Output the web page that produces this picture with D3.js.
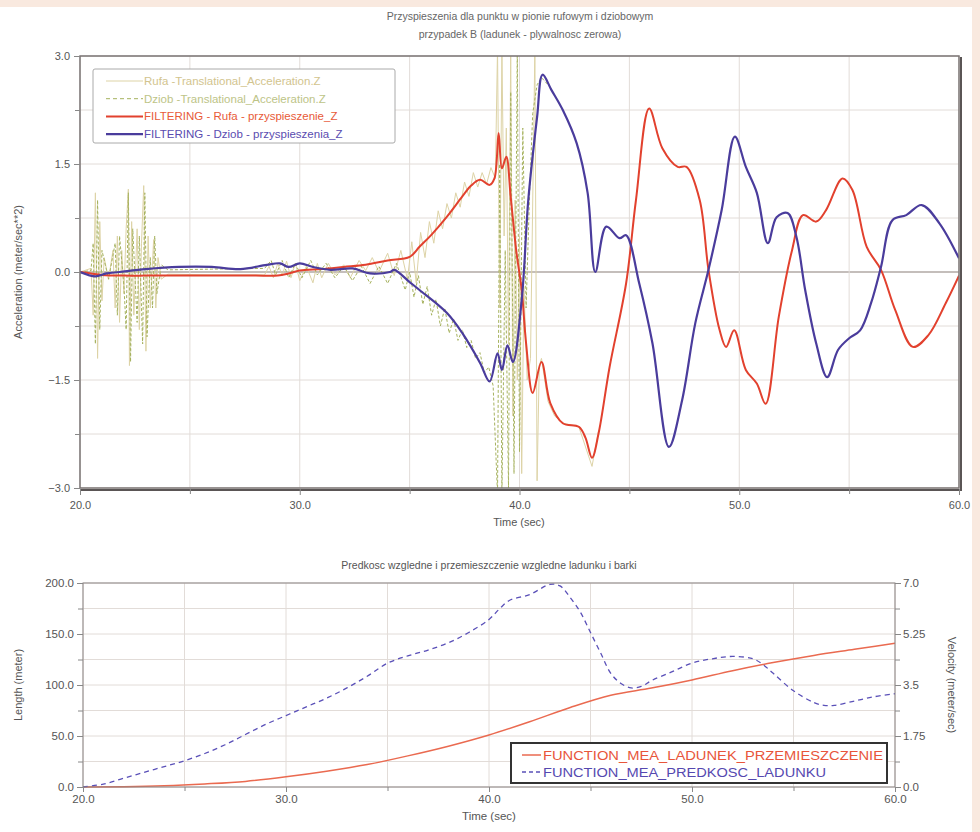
<!DOCTYPE html>
<html>
<head>
<meta charset="utf-8">
<script src="https://cdn.jsdelivr.net/npm/d3@7"></script>
<style>
  body { margin: 0; background: #fff; }
  text { font-family: "Liberation Sans", Arial, sans-serif; }
</style>
</head>
<body>
<svg id="chart"></svg>
<script>
// ---- top chart data (time in sec, acceleration in m/s^2) ----
const rufaFiltered = [
  [20,0],[20.5,-0.02],[21,-0.04],[22,-0.05],[23,-0.05],[24,-0.05],[25,-0.05],[26,-0.05],[27,-0.05],[28,-0.05],
  [29,-0.05],[29.5,-0.02],[30,0.02],[31,0.04],[32,0.07],[33,0.1],[34,0.16],[35,0.21],[35.45,0.35],[36,0.52],
  [36.7,0.77],[37.4,1.05],[37.8,1.2],[38.2,1.28],[38.64,1.21],[38.86,1.3],[39.05,1.93],[39.2,1.44],[39.4,1.6],
  [39.6,1.04],[39.85,0.3],[40.1,-0.25],[40.3,-0.99],[40.6,-1.68],[41.0,-1.25],[41.4,-1.82],[41.97,-2.1],
  [42.7,-2.15],[43.0,-2.3],[43.3,-2.58],[43.6,-2.24],[44.1,-1.32],[44.85,-0.16],[45.3,1.0],[45.9,2.27],
  [46.5,1.72],[47.2,1.46],[47.6,1.46],[48.2,1.0],[48.6,0.03],[49.1,-0.8],[49.4,-1.04],[49.77,-0.81],
  [50.3,-1.36],[50.8,-1.55],[51.2,-1.83],[51.8,-0.62],[52.4,0.3],[52.9,0.79],[53.5,0.7],[53.95,0.86],
  [54.7,1.3],[55.15,1.14],[55.8,0.35],[56.45,0.03],[57.1,-0.53],[57.9,-1.04],[58.6,-0.88],[59.4,-0.43],[60,-0.05]
];
const dziobFiltered = [
  [20,0],[20.7,-0.06],[21.2,-0.02],[21.8,0],[23,0.04],[24.5,0.07],[26,0.07],[27.3,0.04],[28.5,0.1],[29.1,0.12],
  [29.5,0.07],[30,0.12],[30.6,0.07],[31.4,0.03],[32.4,0.05],[33.2,-0.02],[34.1,0.0],[34.3,0.03],[35,-0.14],
  [35.45,-0.25],[36.7,-0.57],[37.4,-0.85],[38.2,-1.26],[38.64,-1.52],[39.0,-1.13],[39.2,-1.36],[39.45,-1.02],
  [39.7,-1.25],[40.1,-0.39],[40.4,1.0],[40.8,2.15],[41.05,2.74],[41.45,2.53],[41.97,2.25],[42.6,1.79],
  [43.1,1.1],[43.45,0.0],[43.95,0.63],[44.55,0.47],[44.85,0.51],[45.45,-0.16],[46.05,-0.99],[46.8,-2.43],
  [47.4,-1.78],[48.0,-0.71],[48.6,0.03],[49.2,0.86],[49.8,1.88],[50.3,1.46],[50.8,1.1],[51.3,0.4],[51.7,0.76],
  [52.2,0.82],[52.6,0.49],[53.0,-0.25],[53.5,-0.99],[54.0,-1.46],[54.5,-1.08],[55.0,-0.92],[55.5,-0.81],
  [56.0,-0.43],[56.45,0.07],[56.97,0.72],[57.6,0.79],[58.3,0.93],[59.1,0.68],[60,0.19]
];
const rufaRaw = [
  [20,0],[20.5,0.05],[20.6,-0.6],[20.7,1.1],[20.8,-1.2],[20.9,0.7],[21.0,-0.4],[21.1,0.2],[21.3,-0.1],[21.5,0.3],
  [21.6,-0.5],[21.7,0.5],[21.8,-0.7],[21.9,0.3],[22.0,-0.3],[22.1,0.6],[22.2,1.15],[22.25,-1.3],[22.35,0.7],
  [22.45,-0.6],[22.6,0.6],[22.7,-0.8],[22.8,0.4],[22.9,1.2],[23.0,-1.1],[23.1,0.5],[23.2,-0.5],[23.35,0.45],
  [23.45,-0.5],[23.55,0.2],[23.7,-0.1],[24,-0.03],[26,-0.04],[28.4,-0.04],[28.6,0.08],[28.8,-0.08],[29,0.12],
  [29.2,-0.05],[29.4,0.15],[29.6,-0.08],[29.8,0.12],[30,-0.12],[30.3,0.08],[30.6,-0.15],[30.8,0.12],[31,-0.08],
  [31.3,0.12],[31.6,-0.04],[32,0.1],[32.3,-0.08],[32.7,0.16],[33,0.02],[33.3,0.2],[33.6,0.0],[34,0.26],
  [34.3,-0.05],[34.6,0.3],[34.9,-0.1],[35.1,0.42],[35.3,-0.15],[35.5,0.55],[35.7,0.2],[35.9,0.7],[36.1,0.4],
  [36.3,0.85],[36.5,0.6],[36.7,0.95],[36.9,0.75],[37.1,1.1],[37.3,0.9],[37.5,1.25],[37.7,1.05],[37.9,1.38],
  [38.1,1.18],[38.3,1.38],[38.5,1.22],[38.7,1.45],[38.9,1.3],[39.0,3.2],[39.1,-0.5],[39.2,3.2],[39.3,0.5],
  [39.4,2.0],[39.5,-1.0],[39.6,3.2],[39.7,-2.0],[39.8,1.0],[39.9,-1.5],[40.0,0.5],[40.1,-2.8],[40.2,-0.2],
  [40.35,-1.5],[40.5,-1.2],[40.7,3.2],[40.8,-2.9],[40.9,-1.3],[41.0,-1.2],[41.3,-1.8],[41.6,-2.0],[42,-2.1],
  [42.7,-2.15],[43.3,-2.7],[43.6,-2.2]
];
const dziobRaw = [
  [20,0],[20.5,0.02],[20.6,0.4],[20.7,-1.0],[20.8,1.0],[20.9,-0.8],[21.0,0.3],[21.3,-0.1],[21.6,0.4],[21.7,-0.6],
  [21.8,0.5],[22.0,-0.2],[22.1,-0.8],[22.2,1.1],[22.3,-1.25],[22.4,0.6],[22.6,-0.7],[22.7,0.5],[22.85,-1.0],
  [22.95,1.1],[23.05,-0.9],[23.2,0.2],[23.3,-0.5],[23.4,0.5],[23.5,-0.3],[23.7,0.1],[24,0.03],[26,0.04],
  [28.4,0.05],[28.7,0.16],[28.9,-0.04],[29.2,0.16],[29.5,-0.08],[29.8,0.12],[30.1,-0.08],[30.5,0.16],[30.8,-0.04],
  [31.2,0.12],[31.6,-0.08],[32,0.08],[32.4,-0.12],[32.8,0.08],[33.2,-0.16],[33.6,0.08],[34,-0.16],[34.4,0.12],
  [34.8,-0.25],[35,0.0],[35.2,-0.35],[35.4,-0.05],[35.6,-0.45],[35.8,-0.2],[36,-0.6],[36.2,-0.38],[36.4,-0.75],
  [36.6,-0.5],[36.8,-0.85],[37,-0.65],[37.2,-0.95],[37.4,-0.8],[37.6,-1.05],[37.8,-0.95],[38,-1.2],[38.2,-1.12],
  [38.4,-1.4],[38.6,-1.32],[38.8,-1.58],[39.0,-3.2],[39.1,1.5],[39.2,-3.2],[39.35,0.3],[39.5,-3.0],[39.6,2.5],
  [39.75,-2.8],[39.9,3.2],[40.0,-2.5],[40.15,2.0],[40.3,-0.5],[40.45,1.0],[40.6,2.2],[40.8,2.6],[41.0,2.7],
  [41.3,2.6]
];
const topYTicks = [-3, -1.5, 0, 1.5, 3];
const topYMinor = [-2.25, -0.75, 0.75, 2.25];
const topXTicks = [20, 30, 40, 50, 60];
const topXMinor = [25, 35, 45, 55];
const topLegend = [
  "Rufa -Translational_Acceleration.Z",
  "Dziob -Translational_Acceleration.Z",
  "FILTERING - Rufa - przyspieszenie_Z",
  "FILTERING - Dziob - przyspieszenia_Z"
];

// ---- bottom chart data ----
const lengthData = [
  [20,0],[22,0.3],[24,1.2],[26,3],[28,5.5],[30,10],[32,15.5],[34,22],[36,30.5],[38,40],[40,51],[42,64],
  [44,78],[46,90],[48,97],[50,105],[52,114],[54,122],[56,129],[58,135],[60,141]
];
const velocityData = [
  [20,0],[21,0.1],[22,0.3],[23,0.5],[24,0.7],[25,0.9],[26,1.15],[27,1.45],[28,1.8],[29,2.15],[30,2.45],
  [31,2.75],[32,3.05],[33,3.4],[34,3.8],[35,4.25],[36,4.5],[37,4.7],[38,4.95],[39,5.3],[40,5.75],[40.5,6.1],
  [41,6.4],[42,6.6],[43,6.95],[43.5,6.9],[44,6.5],[44.5,6.0],[45,5.3],[45.5,4.6],[46,3.9],[46.5,3.55],
  [47,3.4],[47.5,3.45],[48,3.65],[49,3.95],[50,4.25],[51,4.4],[52,4.48],[53,4.4],[53.5,4.2],[54,3.9],
  [55,3.3],[56,2.9],[56.5,2.8],[57,2.8],[58,2.95],[59,3.1],[60,3.2]
];
const lenTicks = [0, 50, 100, 150, 200];
const lenMinor = [25, 75, 125, 175];
const velTicks = [0, 1.75, 3.5, 5.25, 7];
const velLabels = ["0.0", "1.75", "3.5", "5.25", "7.0"];
const botXTicks = [20, 30, 40, 50, 60];
const botXMinor = [25, 35, 45, 55];
const botLegend = ["FUNCTION_MEA_LADUNEK_PRZEMIESZCZENIE", "FUNCTION_MEA_PREDKOSC_LADUNKU"];

const W = 980, H = 832;
const RED = "#e2412e", BLUE = "#4a3c9c", KHAKI = "#ddd3a6", OLIVE = "#a6b25e";
const GRID = "#e2dcd8", TXT = "#555";

const svg = d3.select("#chart").attr("width", W).attr("height", H);
svg.append("rect").attr("width", W).attr("height", H).attr("fill", "#fff");
svg.append("rect").attr("width", W).attr("height", 7).attr("fill", "#f9e9df");
svg.append("rect").attr("x", 972).attr("width", 8).attr("height", H).attr("fill", "#f9e9df");

// ================= TOP CHART =================
const x1 = d3.scaleLinear().domain([20, 60]).range([80, 959]);
const y1 = d3.scaleLinear().domain([-3, 3]).range([488, 56]);
const topG = svg.append("g");

topG.append("text").attr("x", 520).attr("y", 20).attr("text-anchor", "middle")
  .attr("font-size", 10.5).attr("fill", "#666")
  .text("Przyspieszenia dla punktu w pionie rufowym i dziobowym");
topG.append("text").attr("x", 520).attr("y", 38).attr("text-anchor", "middle")
  .attr("font-size", 10.5).attr("fill", "#666")
  .text("przypadek B (ladunek - plywalnosc zerowa)");

topG.append("g").selectAll("line").data(d3.range(-3, 3.01, 0.75)).join("line")
  .attr("x1", 80).attr("x2", 959).attr("y1", d => y1(d)).attr("y2", d => y1(d))
  .attr("stroke", d => d === 0 ? "#8a7e78" : GRID).attr("stroke-width", d => d === 0 ? 1.2 : 1);
topG.append("g").selectAll("line").data(topXTicks.concat(topXMinor)).join("line")
  .attr("x1", d => x1(d)).attr("x2", d => x1(d)).attr("y1", 56).attr("y2", 488)
  .attr("stroke", GRID);

const line1 = d3.line().x(d => x1(d[0])).y(d => y1(Math.max(-3.1, Math.min(3.1, d[1]))));
svg.append("clipPath").attr("id", "clip1").append("rect")
  .attr("x", 80).attr("y", 56).attr("width", 879).attr("height", 432);
const plot1 = topG.append("g").attr("clip-path", "url(#clip1)");
plot1.append("path").datum(rufaRaw).attr("d", line1).attr("fill", "none")
  .attr("stroke", KHAKI).attr("stroke-width", 1);
plot1.append("path").datum(dziobRaw).attr("d", line1).attr("fill", "none")
  .attr("stroke", OLIVE).attr("stroke-width", 1).attr("stroke-dasharray", "3,2");
const smooth1 = d3.line().x(d => x1(d[0])).y(d => y1(d[1])).curve(d3.curveCatmullRom.alpha(0.5));
plot1.append("path").datum(rufaFiltered).attr("d", smooth1).attr("fill", "none")
  .attr("stroke", RED).attr("stroke-width", 2);
plot1.append("path").datum(dziobFiltered).attr("d", smooth1).attr("fill", "none")
  .attr("stroke", BLUE).attr("stroke-width", 2.2);

// frame
topG.append("rect").attr("x", 80).attr("y", 56).attr("width", 879).attr("height", 432)
  .attr("fill", "none").attr("stroke", "#7a7474").attr("stroke-width", 1.5);
topG.append("path").attr("d", "M81,490H961V57").attr("fill", "none")
  .attr("stroke", "#5a5555").attr("stroke-width", 2);

// axes
topG.append("g").attr("transform", "translate(80,0)")
  .call(d3.axisLeft(y1).tickValues(topYTicks).tickFormat(d3.format(".1f")).tickSize(6).tickPadding(4));
topG.append("g").attr("transform", "translate(80,0)")
  .call(d3.axisLeft(y1).tickValues(topYMinor).tickFormat("").tickSize(5));
topG.append("g").attr("transform", "translate(0,489)")
  .call(d3.axisBottom(x1).tickValues(topXTicks).tickFormat(d3.format(".1f")).tickSize(6).tickPadding(6));
topG.append("g").attr("transform", "translate(0,489)")
  .call(d3.axisBottom(x1).tickValues(topXMinor).tickFormat("").tickSize(5));
topG.selectAll(".domain").remove();
topG.selectAll(".tick line").attr("stroke", "#888");
topG.selectAll(".tick text").attr("fill", TXT).attr("font-size", 11);

topG.append("text").attr("transform", "translate(22,272) rotate(-90)").attr("text-anchor", "middle")
  .attr("font-size", 11).attr("fill", TXT).text("Acceleration (meter/sec**2)");
topG.append("text").attr("x", 519).attr("y", 526).attr("text-anchor", "middle")
  .attr("font-size", 11).attr("fill", TXT).text("Time (sec)");

// legend
const lg1 = topG.append("g");
lg1.append("rect").attr("x", 93).attr("y", 69).attr("width", 302).attr("height", 74).attr("rx", 2)
  .attr("fill", "#fff").attr("stroke", "#aaa");
const legStyles = [
  { c: KHAKI, dash: null, w: 1, tc: "#d2c48e" },
  { c: OLIVE, dash: "4,3", w: 1, tc: "#bdc487" },
  { c: RED, dash: null, w: 2, tc: "#e85a38" },
  { c: BLUE, dash: null, w: 2.2, tc: "#5a4cb0" }
];
topLegend.forEach((t, i) => {
  const yy = 81 + i * 17.7;
  lg1.append("line").attr("x1", 106).attr("x2", 143).attr("y1", yy).attr("y2", yy)
    .attr("stroke", legStyles[i].c).attr("stroke-width", legStyles[i].w)
    .attr("stroke-dasharray", legStyles[i].dash);
  lg1.append("text").attr("x", 144).attr("y", yy + 4).attr("font-size", 11.5)
    .attr("fill", legStyles[i].tc).text(t);
});

// ================= BOTTOM CHART =================
const x2 = d3.scaleLinear().domain([20, 60]).range([83, 895]);
const yL = d3.scaleLinear().domain([0, 200]).range([787, 583]);
const yR = d3.scaleLinear().domain([0, 7]).range([787, 583]);
const botG = svg.append("g");

botG.append("text").attr("x", 489).attr("y", 569).attr("text-anchor", "middle")
  .attr("font-size", 10.5).attr("fill", "#555")
  .text("Predkosc wzgledne i przemieszczenie wzgledne ladunku i barki");

botG.append("g").selectAll("line").data(lenTicks.concat(lenMinor)).join("line")
  .attr("x1", 83).attr("x2", 895).attr("y1", d => yL(d)).attr("y2", d => yL(d)).attr("stroke", GRID);
botG.append("g").selectAll("line").data(botXTicks.concat(botXMinor)).join("line")
  .attr("x1", d => x2(d)).attr("x2", d => x2(d)).attr("y1", 583).attr("y2", 787).attr("stroke", GRID);

const lenLine = d3.line().x(d => x2(d[0])).y(d => yL(d[1])).curve(d3.curveMonotoneX);
const velLine = d3.line().x(d => x2(d[0])).y(d => yR(d[1])).curve(d3.curveCatmullRom.alpha(0.5));
botG.append("path").datum(lengthData).attr("d", lenLine).attr("fill", "none")
  .attr("stroke", "#ea6a50").attr("stroke-width", 1.5);
botG.append("path").datum(velocityData).attr("d", velLine).attr("fill", "none")
  .attr("stroke", "#5a50b8").attr("stroke-width", 1.3).attr("stroke-dasharray", "5,4");

botG.append("rect").attr("x", 83).attr("y", 583).attr("width", 812).attr("height", 204)
  .attr("fill", "none").attr("stroke", "#8a8484").attr("stroke-width", 1);

botG.append("g").attr("transform", "translate(83,0)")
  .call(d3.axisLeft(yL).tickValues(lenTicks).tickFormat(d3.format(".1f")).tickSize(6).tickPadding(3));
botG.append("g").attr("transform", "translate(83,0)")
  .call(d3.axisLeft(yL).tickValues(lenMinor).tickFormat("").tickSize(5));
botG.append("g").attr("transform", "translate(895,0)")
  .call(d3.axisRight(yR).tickValues(velTicks).tickFormat((d, i) => velLabels[i]).tickSize(6).tickPadding(2));
botG.append("g").attr("transform", "translate(895,0)")
  .call(d3.axisRight(yR).tickValues([0.875, 2.625, 4.375, 6.125]).tickFormat("").tickSize(5));
botG.append("g").attr("transform", "translate(0,787)")
  .call(d3.axisBottom(x2).tickValues(botXTicks).tickFormat(d3.format(".1f")).tickSize(5).tickPadding(3));
botG.append("g").attr("transform", "translate(0,787)")
  .call(d3.axisBottom(x2).tickValues(botXMinor).tickFormat("").tickSize(4));
botG.selectAll(".domain").remove();
botG.selectAll(".tick line").attr("stroke", "#888");
botG.selectAll(".tick text").attr("fill", "#555").attr("font-size", 11.5);

botG.append("text").attr("transform", "translate(22,685) rotate(-90)").attr("text-anchor", "middle")
  .attr("font-size", 11).attr("fill", TXT).text("Length (meter)");
botG.append("text").attr("transform", "translate(948,685) rotate(90)").attr("text-anchor", "middle")
  .attr("font-size", 11).attr("fill", TXT).text("Velocity (meter/sec)");
botG.append("text").attr("x", 489).attr("y", 820).attr("text-anchor", "middle")
  .attr("font-size", 11.5).attr("fill", TXT).text("Time (sec)");

// legend
const lg2 = botG.append("g");
lg2.append("rect").attr("x", 511).attr("y", 743).attr("width", 376).attr("height", 40)
  .attr("fill", "#fff").attr("stroke", "#333").attr("stroke-width", 2);
const botLegStyles = [
  { c: "#ea6a50", dash: null, tc: "#e8553a" },
  { c: "#5a50b8", dash: "4,3", tc: "#5548b0" }
];
botLegend.forEach((t, i) => {
  const yy = 755 + i * 17;
  lg2.append("line").attr("x1", 522).attr("x2", 541).attr("y1", yy).attr("y2", yy)
    .attr("stroke", botLegStyles[i].c).attr("stroke-width", 1.5)
    .attr("stroke-dasharray", botLegStyles[i].dash);
  lg2.append("text").attr("x", 543).attr("y", yy + 4.5).attr("font-size", 12.5)
    .attr("fill", botLegStyles[i].tc).attr("textLength", i === 0 ? 340 : 283)
    .attr("lengthAdjust", "spacingAndGlyphs").text(t);
});
</script>
</body>
</html>
